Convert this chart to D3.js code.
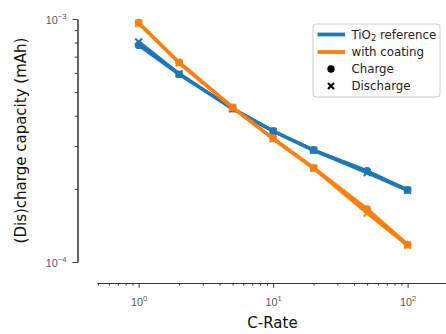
<!DOCTYPE html>
<html>
<head>
<meta charset="utf-8">
<script src="https://cdn.jsdelivr.net/npm/d3@7"></script>
<style>
  html, body { margin: 0; padding: 0; background: #fff; }
  svg { display: block; font-family: "DejaVu Sans", sans-serif; }
</style>
</head>
<body>
<svg id="chart" width="446" height="334"></svg>
<script>
// ---- data ----
const rates = [1, 2, 5, 10, 20, 50, 100];
const refCharge     = [7.80e-4, 5.92e-4, 4.28e-4, 3.46e-4, 2.89e-4, 2.37e-4, 1.98e-4];
const refDischarge  = [8.05e-4, 5.95e-4, 4.27e-4, 3.45e-4, 2.88e-4, 2.33e-4, 1.97e-4];
const coatCharge    = [9.66e-4, 6.63e-4, 4.33e-4, 3.23e-4, 2.44e-4, 1.65e-4, 1.18e-4];
const coatDischarge = [9.60e-4, 6.60e-4, 4.32e-4, 3.21e-4, 2.43e-4, 1.59e-4, 1.17e-4];
const xMajorTicks = [1, 10, 100];
const xMajorExps = ["0", "1", "2"];
const yMajorTicks = [1e-4, 1e-3];
const yMajorExps = ["\u22124", "\u22123"];
const seriesNames = ["TiO", "with coating"];
const markerNames = ["Charge", "Discharge"];
const colors = ["#1f77b4", "#ff7f0e"];

const svg = d3.select("#chart");

const x = d3.scaleLog().domain([0.49, 193]).range([97, 446]);
const y = d3.scaleLog().domain([1e-4, 1e-3]).range([262, 19]);

// minor ticks
const xMinor = [];
for (let d = 0.1; d <= 100; d *= 10) {
  for (let k = 2; k <= 9; k++) {
    const v = k * d;
    if (v >= 0.49 && v <= 193) xMinor.push(+v.toPrecision(3));
  }
}
const yMinor = [];
for (let k = 2; k <= 9; k++) yMinor.push(k * 1e-4);

const axisColor = "#333";
const labelColor = "#555";

// x axis
const xAxisY = 283;
const gxMinor = svg.append("g").attr("transform", `translate(0,${xAxisY})`)
  .call(d3.axisBottom(x).tickValues(xMinor).tickSize(2.6).tickSizeOuter(0).tickFormat(""));
const gx = svg.append("g").attr("transform", `translate(0,${xAxisY})`)
  .call(d3.axisBottom(x).tickValues(xMajorTicks).tickSize(4.8).tickSizeOuter(0).tickFormat(""));
[gx, gxMinor].forEach(g => {
  g.select(".domain").attr("stroke", axisColor).attr("stroke-width", 1);
  g.selectAll(".tick line").attr("stroke", axisColor).attr("stroke-width", 1);
});
gx.selectAll(".tick").each(function(d, i) {
  const t = d3.select(this).append("text")
    .attr("y", 22.5).attr("fill", labelColor).attr("text-anchor", "middle")
    .style("font-size", "10.8px");
  t.append("tspan").text("10");
  t.append("tspan").attr("dy", -5).style("font-size", "7.6px").text(xMajorExps[i]);
});

// y axis
const yAxisX = 77.5;
const gyMinor = svg.append("g").attr("transform", `translate(${yAxisX},0)`)
  .call(d3.axisLeft(y).tickValues(yMinor).tickSize(2.8).tickSizeOuter(0).tickFormat(""));
const gy = svg.append("g").attr("transform", `translate(${yAxisX},0)`)
  .call(d3.axisLeft(y).tickValues(yMajorTicks).tickSize(5).tickSizeOuter(0).tickFormat(""));
[gy, gyMinor].forEach(g => {
  g.select(".domain").attr("stroke", axisColor).attr("stroke-width", 1);
  g.selectAll(".tick line").attr("stroke", axisColor).attr("stroke-width", 1);
});
gy.selectAll(".tick").each(function(d, i) {
  const t = d3.select(this).append("text")
    .attr("x", -11).attr("y", 4).attr("fill", labelColor).attr("text-anchor", "end")
    .style("font-size", "10.8px");
  t.append("tspan").text("10");
  t.append("tspan").attr("dy", -5).style("font-size", "7.6px").text(yMajorExps[i]);
});

// axis labels
svg.append("text").attr("x", 272.5).attr("y", 328).attr("text-anchor", "middle")
  .style("font-size", "15px").attr("fill", "#111").text("C-Rate");
svg.append("text").attr("transform", `translate(25.5,140.5) rotate(-90)`)
  .attr("text-anchor", "middle").style("font-size", "15px").attr("fill", "#111")
  .text("(Dis)charge capacity (mAh)");

// series
const line = d3.line().x(d => x(d[0])).y(d => y(d[1]));
const lw = 3.4;
function drawSeries(vals, color, marker) {
  const pts = rates.map((r, i) => [r, vals[i]]);
  svg.append("path").datum(pts).attr("d", line)
    .attr("fill", "none").attr("stroke", color).attr("stroke-width", lw)
    .attr("stroke-linejoin", "round").attr("stroke-linecap", "butt");
  const g = svg.append("g");
  pts.forEach(p => drawMarker(g, x(p[0]), y(p[1]), color, marker));
}
function drawMarker(g, cx, cy, color, marker, size) {
  const k = size || 1;
  if (marker === "o") {
    g.append("circle").attr("cx", cx).attr("cy", cy).attr("r", 3.9 * k).attr("fill", color);
  } else {
    const s = 3.4 * k;
    g.append("path")
      .attr("d", `M${cx - s},${cy - s}L${cx + s},${cy + s}M${cx - s},${cy + s}L${cx + s},${cy - s}`)
      .attr("stroke", color).attr("stroke-width", 2).attr("fill", "none");
  }
}
drawSeries(refCharge, colors[0], "o");
drawSeries(refDischarge, colors[0], "x");
drawSeries(coatCharge, colors[1], "o");
drawSeries(coatDischarge, colors[1], "x");

// legend
const lg = svg.append("g").attr("transform", "translate(313,24)");
lg.append("rect").attr("x", 0).attr("y", 0).attr("width", 127).attr("height", 73)
  .attr("rx", 3).attr("fill", "#fff").attr("fill-opacity", 0.8)
  .attr("stroke", "#ccc").attr("stroke-width", 1);
const rowY = [10.5, 28, 45, 62];
const txtX = 38.5;
[0, 1].forEach(i => {
  lg.append("line").attr("x1", 4.5).attr("x2", 32).attr("y1", rowY[i]).attr("y2", rowY[i])
    .attr("stroke", colors[i]).attr("stroke-width", 3.8);
});
const t0 = lg.append("text").attr("x", txtX).attr("y", rowY[0] + 4.2)
  .style("font-size", "11.8px").attr("fill", "#222");
t0.append("tspan").text(seriesNames[0]);
t0.append("tspan").attr("dy", 2.5).style("font-size", "8.3px").text("2");
t0.append("tspan").attr("dy", -2.5).text(" reference");
lg.append("text").attr("x", txtX).attr("y", rowY[1] + 4.2)
  .style("font-size", "11.8px").attr("fill", "#222").text(seriesNames[1]);
drawMarker(lg, 18, rowY[2], "#000", "o", 0.95);
drawMarker(lg, 18, rowY[3], "#000", "x", 0.9);
[2, 3].forEach(i => {
  lg.append("text").attr("x", txtX).attr("y", rowY[i] + 4.2)
    .style("font-size", "11.8px").attr("fill", "#222").text(markerNames[i - 2]);
});
</script>
</body>
</html>
